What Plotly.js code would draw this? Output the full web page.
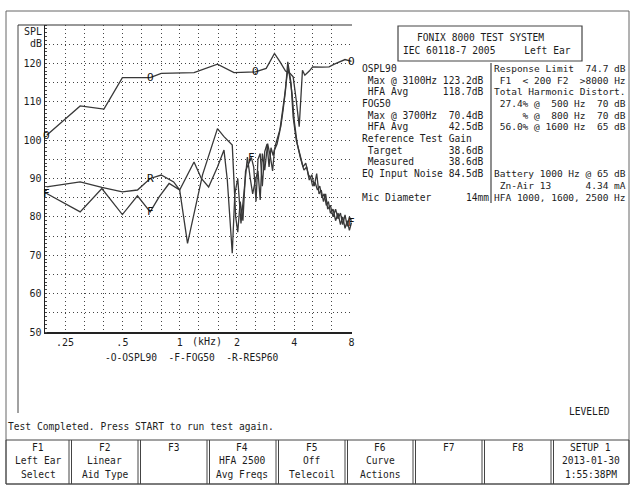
<!DOCTYPE html>
<html>
<head>
<meta charset="utf-8">
<script src="https://cdn.plot.ly/plotly-3.0.1.min.js"></script>
<style>html,body{margin:0;padding:0;background:#fff;}#chart{width:632px;height:490px;}</style>
</head>
<body>
<div id="chart"></div>
<script>
// ---------- data ----------
const oFreq = [0.2, 0.3, 0.4, 0.5, 0.7, 0.8, 1.19, 1.58, 1.93, 2.5, 2.85, 3.15, 3.37, 3.6, 3.8, 3.95, 4.1, 4.25, 4.42, 4.55, 4.8, 5.0, 5.6, 6.1, 6.5, 7.4, 8.0];
const oDb   = [101.3, 108.9, 108.1, 116.3, 116.3, 117.4, 117.6, 119.8, 117.6, 117.8, 118.7, 122.6, 120.4, 118, 117.4, 116.5, 110.4, 103.5, 118.2, 116.9, 118, 119.1, 119, 119.1, 119.8, 121, 120.5];
const oMarkIdx = [0, 4, 9, 26];

const fFreq = [0.2, 0.3, 0.39, 0.5, 0.6, 0.7, 0.78, 0.88, 1.0, 1.1, 1.32, 1.45, 1.58, 1.71, 1.89, 1.97, 2.02, 2.08, 2.15, 2.22, 2.3, 2.38, 2.45, 2.52, 2.58, 2.65, 2.72, 2.8, 2.88, 2.95, 3.02, 3.1, 3.2, 3.3, 3.4, 3.5, 3.6, 3.7, 3.78, 3.85, 3.95, 4.1, 4.3, 4.45, 4.6, 4.75, 4.9, 5.0, 5.15, 5.3, 5.45, 5.6, 5.75, 5.9, 6.05, 6.2, 6.4, 6.6, 6.8, 7.0, 7.2, 7.4, 7.6, 7.8, 8.0];
const fDb   = [86.1, 81.3, 87.4, 80.6, 85.5, 81.3, 85.2, 88.7, 87.0, 73.1, 91, 97, 103.0, 100.9, 98.7, 80, 76, 84, 79, 92, 94, 95.5, 93, 84, 95, 96.5, 88, 97, 99, 93, 98, 96, 99, 101, 103.5, 108, 113, 120.4, 117, 114.8, 106, 100, 96, 93, 94, 91, 90, 88, 89, 87, 88, 85, 86, 83, 84, 81, 82, 79, 81, 78, 80, 77, 79, 76.5, 78.5];
const fMarkIdx = [0, 5, 21, 64];

const rFreq = [0.2, 0.3, 0.39, 0.5, 0.6, 0.7, 0.8, 0.93, 1.0, 1.19, 1.3, 1.42, 1.58, 1.71, 1.78, 1.89, 1.95, 2.02, 2.1, 2.2, 2.27, 2.35, 2.42, 2.5, 2.58, 2.65, 2.72, 2.8, 2.9, 3.0, 3.08, 3.15, 3.25, 3.35, 3.45, 3.55, 3.65, 3.72, 3.8, 3.9, 4.0, 4.15, 4.3, 4.5, 4.65, 4.8, 4.95, 5.1, 5.25, 5.4, 5.55, 5.7, 5.85, 6.0, 6.2, 6.4, 6.6, 6.8, 7.0, 7.2, 7.4, 7.6, 7.8, 8.0];
const rDb   = [87.8, 89.1, 87.7, 86.5, 87.0, 90.0, 90.9, 89.1, 87.0, 94.3, 90.0, 87.8, 93, 97.4, 89.6, 70.5, 86, 90, 78.3, 89.6, 95.6, 90, 86, 89.6, 92, 84.4, 96.5, 92.2, 99.1, 95.6, 92, 97.4, 99, 102, 106, 111, 116, 119, 116, 112, 105, 99, 95.6, 92.2, 93, 89.6, 91, 88, 91.3, 86, 87, 84, 86, 82, 83, 80, 82, 79.5, 81, 78, 80.5, 77.5, 80, 79];
const rMarkIdx = [5];

const xGridVals  = [0.25, 0.315, 0.4, 0.5, 0.63, 0.8, 1, 1.25, 1.6, 2, 2.5, 3.15, 4, 5, 6.3, 8];
const xTickText  = ['.25', '', '', '.5', '', '', '1', '', '', '2', '', '', '4', '', '', '8'];
const yGridVals  = [50, 55, 60, 65, 70, 75, 80, 85, 90, 95, 100, 105, 110, 115, 120, 125];
const yTickText  = ['50', '', '60', '', '70', '', '80', '', '90', '', '100', '', '110', '', '120', ''];

const legendText = '-O-OSPL90  -F-FOG50  -R-RESP60';
const titleLines = ['FONIX 8000 TEST SYSTEM', 'IEC 60118-7 2005     Left Ear'];
const leftPanel = [
  'OSPL90',
  ' Max @ 3100Hz 123.2dB',
  ' HFA Avg      118.7dB',
  'FOG50',
  ' Max @ 3700Hz  70.4dB',
  ' HFA Avg       42.5dB',
  'Reference Test Gain',
  ' Target        38.6dB',
  ' Measured      38.6dB',
  'EQ Input Noise 84.5dB',
  '',
  'Mic Diameter      14mm'
];
const rightPanel = [
  'Response Limit  74.7 dB',
  ' F1  < 200 F2  >8000 Hz',
  'Total Harmonic Distort.',
  ' 27.4% @  500 Hz  70 dB',
  '     % @  800 Hz  70 dB',
  ' 56.0% @ 1600 Hz  65 dB',
  '', '', '',
  'Battery 1000 Hz @ 65 dB',
  ' Zn-Air 13      4.34 mA',
  'HFA 1000, 1600, 2500 Hz'
];
const statusText = 'Test Completed. Press START to run test again.';
const leveledText = 'LEVELED';
const fKeys = [
  ['F1', 'Left Ear', 'Select'],
  ['F2', 'Linear', 'Aid Type'],
  ['F3', '', ''],
  ['F4', 'HFA 2500', 'Avg Freqs'],
  ['F5', 'Off', 'Telecoil'],
  ['F6', 'Curve', 'Actions'],
  ['F7', '', ''],
  ['F8', '', ''],
  ['SETUP 1', '2013-01-30', '1:55:38PM']
];

// ---------- geometry helpers (pixel -> paper) ----------
const PL = 45, PR = 352, PT = 25, PB = 332;
const px = x => (x - PL) / (PR - PL);
const py = y => (PB - y) / (PB - PT);
const MONO = 'DejaVu Sans Mono';
const INK = '#1c1c1c';
const nb = s => s.replace(/ /g, '\u00a0');

const annotations = [];
function txt(s, x, y, anchor, size) {
  if (!s) return;
  annotations.push({
    xref: 'paper', yref: 'paper', x: px(x), y: py(y),
    xanchor: anchor || 'left', yanchor: 'middle', showarrow: false,
    text: nb(s), borderpad: 0,
    font: {family: MONO, size: size || 9.6, color: INK}
  });
}
const shapes = [];
function line(x0, y0, x1, y1, color, w, dash) {
  shapes.push({type: 'line', xref: 'paper', yref: 'paper',
    x0: px(x0), y0: py(y0), x1: px(x1), y1: py(y1),
    line: {color: color || '#555', width: w || 1, dash: dash || 'solid'}});
}
function rect(x0, y0, x1, y1, color, w) {
  shapes.push({type: 'rect', xref: 'paper', yref: 'paper',
    x0: px(x0), y0: py(y0), x1: px(x1), y1: py(y1),
    line: {color: color || '#555', width: w || 1}});
}

// frames
rect(6, 11, 629, 484, '#666', 1);
line(18, 25, 18, 413, '#444', 1);
line(18, 25, PR, 25, '#333', 1.2);
rect(398, 26, 582, 61, '#444', 1.2);
line(491, 63, 491, 203, '#444', 1.2);

// chart side texts
txt('SPL', 43, 31, 'right', 10);
txt('dB', 43, 43, 'right', 10);
txt('(kHz)', 207, 341, 'center', 10);
txt(legendText, 192, 357, 'center', 9.6);

// right panel
txt(titleLines[0], 480, 37, 'center');
txt(titleLines[1], 402, 50, 'left');
leftPanel.forEach((s, i) => txt(s, 361, 68.3 + i * 11.7, 'left', 9.6));
rightPanel.forEach((s, i) => txt(s, 493, 68.3 + i * 11.7, 'left', 9.5));

// status lines
txt(leveledText, 568, 411, 'left');
txt(statusText, 7, 426, 'left');

// function key row
const keyEdges = [6, 70, 139, 208, 277, 346, 414, 483, 552, 629];
rect(6, 440, 629, 484, '#444', 1);
for (let i = 1; i < keyEdges.length - 1; i++) {
  line(keyEdges[i] - 1, 440, keyEdges[i] - 1, 484, '#444', 1);
  line(keyEdges[i] + 1.5, 440, keyEdges[i] + 1.5, 484, '#444', 1);
}
fKeys.forEach((k, i) => {
  const cx = (keyEdges[i] + keyEdges[i + 1]) / 2;
  k.forEach((s, j) => txt(s, cx, 447 + j * 13.5, 'center'));
});

// curve letter markers, placed on data points through the axes
function marks(xs, ys, idx, letter) {
  idx.forEach(i => annotations.push({
    xref: 'x', yref: 'y', x: Math.log10(xs[i]), y: ys[i],
    xanchor: 'center', yanchor: 'middle', showarrow: false,
    text: letter, borderpad: 0,
    font: {family: MONO, size: 11, color: '#111111'}
  }));
}
marks(oFreq, oDb, oMarkIdx, 'O');
marks(fFreq, fDb, fMarkIdx, 'F');
marks(rFreq, rDb, rMarkIdx, 'R');

// ---------- traces ----------
const lineStyle = {color: '#383838', width: 1.3};
function curve(xs, ys) {
  return {x: xs, y: ys, type: 'scatter', mode: 'lines', line: lineStyle,
    hoverinfo: 'skip', showlegend: false, cliponaxis: true};
}
const data = [curve(oFreq, oDb), curve(fFreq, fDb), curve(rFreq, rDb)];

const layout = {
  width: 632, height: 490,
  margin: {l: PL, r: 632 - PR, t: PT, b: 490 - PB, pad: 0},
  paper_bgcolor: '#fff', plot_bgcolor: '#fff',
  showlegend: false,
  xaxis: {
    type: 'log', range: [Math.log10(0.196), Math.log10(8.05)],
    tickmode: 'array', tickvals: xGridVals, ticktext: xTickText,
    showgrid: true, gridcolor: '#444', gridwidth: 1, griddash: '1px,3px',
    showline: true, linecolor: '#222', linewidth: 1.5, zeroline: false,
    ticks: '', automargin: false, fixedrange: true,
    tickfont: {family: MONO, size: 10, color: INK}
  },
  yaxis: {
    range: [50, 130],
    tickmode: 'array', tickvals: yGridVals, ticktext: yTickText,
    showgrid: true, gridcolor: '#444', gridwidth: 1, griddash: '1px,3px',
    showline: true, linecolor: '#222', linewidth: 1.5, zeroline: false,
    ticks: '', automargin: false, fixedrange: true,
    minor: {dtick: 1, ticks: 'inside', ticklen: 2, tickcolor: '#444', showgrid: false},
    tickfont: {family: MONO, size: 10, color: INK}
  },
  annotations: annotations,
  shapes: shapes
};

Plotly.newPlot('chart', data, layout, {staticPlot: true, displayModeBar: false});
</script>
</body>
</html>
